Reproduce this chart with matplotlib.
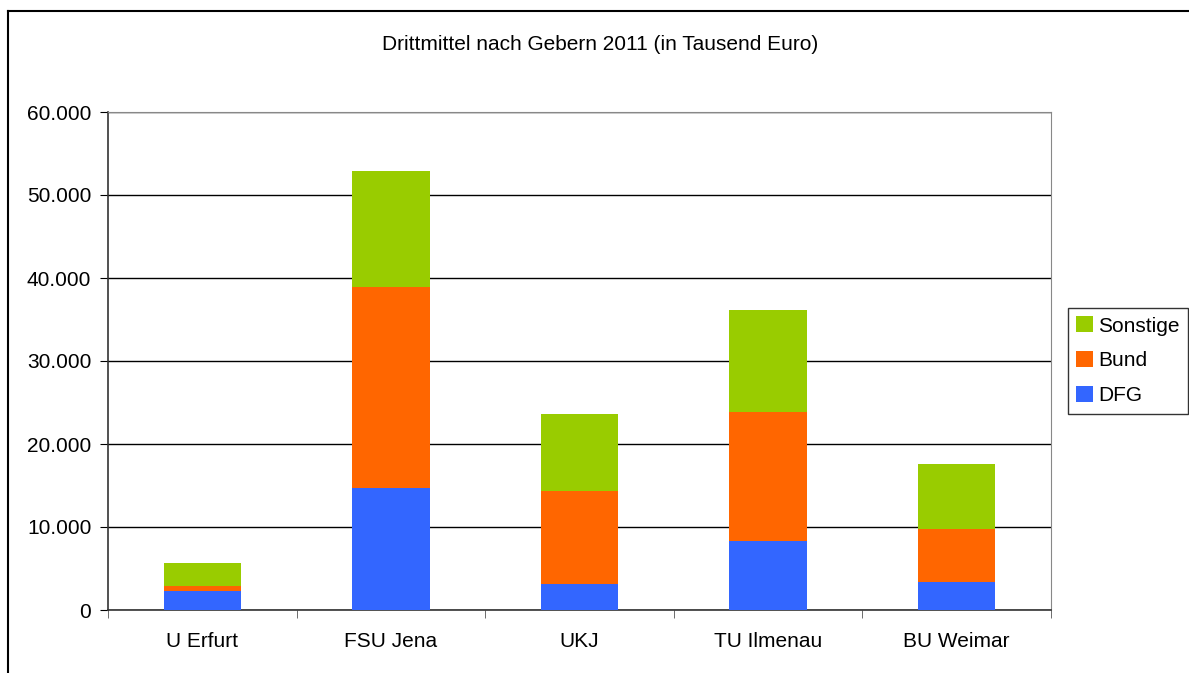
import matplotlib
matplotlib.use("Agg")
import matplotlib.pyplot as plt
from matplotlib import ticker
import numpy as np

plt.rcParams['font.family'] = ['Liberation Sans', 'DejaVu Sans']

# data (Tausend Euro)
hochschulen = ['U Erfurt', 'FSU Jena', 'UKJ', 'TU Ilmenau', 'BU Weimar']
dfg = [2300, 14730, 3170, 8310, 3370]
bund = [550, 24170, 11170, 15550, 6390]
sonstige = [2760, 14000, 9260, 12280, 7830]

col_dfg = '#3366ff'
col_bund = '#ff6600'
col_sonst = '#99cc00'

fig = plt.figure(figsize=(11.89, 6.73), dpi=100)
ax = fig.add_axes([108 / 1189, 63 / 673, (1051 - 108) / 1189, (610 - 112) / 673])

x = np.arange(len(hochschulen))
w = 0.41
dfg = np.array(dfg)
bund = np.array(bund)
sonstige = np.array(sonstige)
b1 = ax.bar(x, dfg, w, color=col_dfg, label='DFG', zorder=3)
b2 = ax.bar(x, bund, w, bottom=dfg, color=col_bund, label='Bund', zorder=3)
b3 = ax.bar(x, sonstige, w, bottom=dfg + bund, color=col_sonst, label='Sonstige', zorder=3)

ax.set_xlim(-0.5, len(hochschulen) - 0.5)
ax.set_ylim(0, 60000)
ax.yaxis.set_major_locator(ticker.MultipleLocator(10000))
ax.yaxis.set_major_formatter(ticker.FuncFormatter(lambda v, p: f'{int(v):,}'.replace(',', '.')))
ax.grid(axis='y', color='black', lw=1, zorder=1)

ax.set_xticks(x)
ax.set_xticklabels(hochschulen)
ax.set_xticks(np.arange(-0.5, len(hochschulen)), minor=True)
ax.tick_params(axis='x', which='major', length=0, pad=16, labelsize=15)
ax.tick_params(axis='x', which='minor', length=6, direction='out', color='#555555')
ax.tick_params(axis='y', length=6, labelsize=15, pad=6)

for s in ['top', 'right']:
    ax.spines[s].set_color('#888888')
for s in ['left', 'bottom']:
    ax.spines[s].set_color('#333333')
    ax.spines[s].set_linewidth(1.2)

fig.text(600 / 1189, 1 - 45 / 673, 'Drittmittel nach Gebern 2011 (in Tausend Euro)',
         ha='center', va='center', fontsize=15)

leg = fig.legend(handles=[b3, b2, b1], loc='upper left',
                 bbox_to_anchor=(1068 / 1189, 1 - 308 / 673),
                 fontsize=15, frameon=True, fancybox=False, handlelength=0.8,
                 handleheight=0.8, handletextpad=0.25, borderpad=0.4,
                 labelspacing=0.75, borderaxespad=0)
leg.get_frame().set_edgecolor('black')
leg.get_frame().set_linewidth(1)

# outer chart border (left and top visible)
fig.add_artist(plt.Line2D([8 / 1189, 8 / 1189], [0, 1 - 11 / 673], color='black', lw=1.5))
fig.add_artist(plt.Line2D([8 / 1189, 1], [1 - 11 / 673, 1 - 11 / 673], color='black', lw=1.5))

fig.savefig('out.png', dpi=100)
